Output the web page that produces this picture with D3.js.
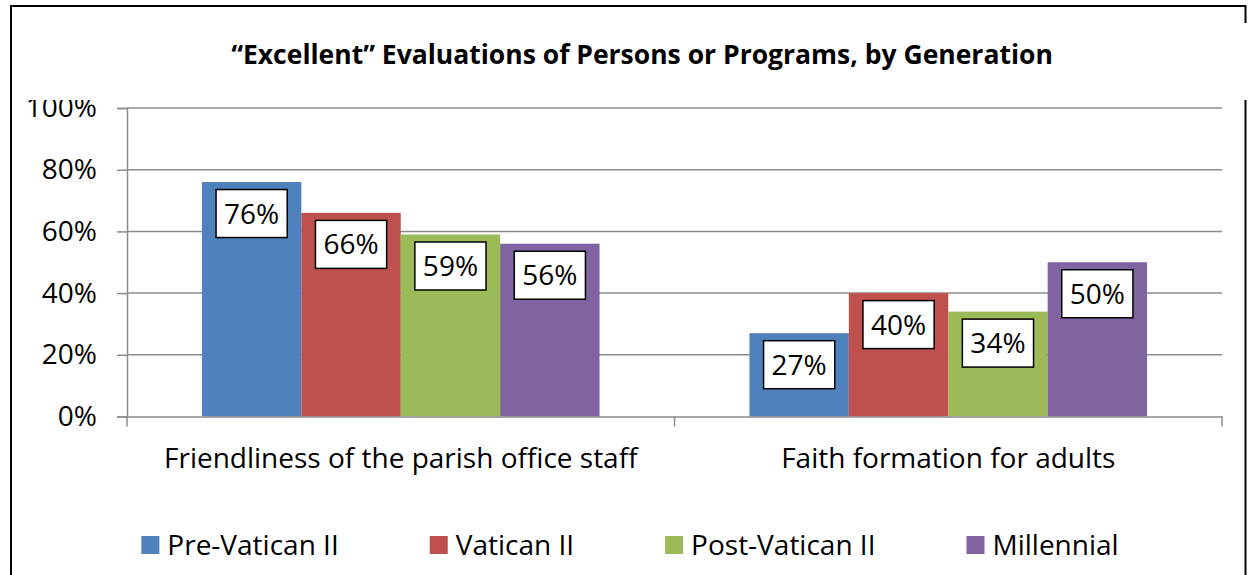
<!DOCTYPE html>
<html>
<head>
<meta charset="utf-8">
<script src="https://cdn.jsdelivr.net/npm/d3@7"></script>
<style>
  html, body { margin: 0; padding: 0; background: #fff; }
  svg { display: block; font-family: "Open Sans", Lato, sans-serif; }
</style>
</head>
<body>
<div id="chart"></div>
<script>
// chart values
const categories = ["Friendliness of the parish office staff", "Faith formation for adults"];
const generations = ["Pre-Vatican II", "Vatican II", "Post-Vatican II", "Millennial"];
const preVatican = [76, 27];
const vatican = [66, 40];
const postVatican = [59, 34];
const millennial = [56, 50];
const yTicks = [0, 20, 40, 60, 80, 100];
const colours = ["#4F81BD", "#C0504D", "#9BBB59", "#8064A2"];

const W = 1248, H = 575;
const plot = { left: 127, right: 1222, top: 108, bottom: 416.5 };
const fontSize = 28;

const seriesValues = [preVatican, vatican, postVatican, millennial];
const rows = categories.map((c, i) => ({
  category: c,
  values: generations.map((g, j) => ({ gen: g, value: seriesValues[j][i] }))
}));

const svg = d3.select("#chart").append("svg")
  .attr("width", W)
  .attr("height", H);

// outer frame
const frame = svg.append("g").attr("stroke", "#000").attr("stroke-width", 2).attr("fill", "none");
frame.append("path").attr("d", `M11,${H} V6 H1245.5 V23`);
frame.append("path").attr("d", `M1245.5,100 V${H}`);

svg.append("text")
  .attr("x", 642)
  .attr("y", 64)
  .attr("text-anchor", "middle")
  .attr("font-weight", "bold")
  .attr("font-size", 26.5)
  .text("\u201CExcellent\u201D Evaluations of Persons or Programs, by Generation");

const x0 = d3.scaleBand().domain(categories).range([plot.left, plot.right]).padding(0);
const x1 = d3.scaleBand().domain(generations).range([0, x0.bandwidth()])
  .paddingInner(0).paddingOuter(0.754);
const y = d3.scaleLinear().domain([0, 100]).range([plot.bottom, plot.top]);

svg.append("defs").append("clipPath").attr("id", "clipTop")
  .append("rect").attr("x", 0).attr("y", 100).attr("width", W).attr("height", H);

// gridlines
svg.append("g")
  .selectAll("line")
  .data(yTicks.filter((d) => d > 0))
  .join("line")
  .attr("x1", plot.left)
  .attr("x2", plot.right)
  .attr("y1", (d) => y(d))
  .attr("y2", (d) => y(d))
  .attr("stroke", "#8c8c8c")
  .attr("stroke-width", 1.5);

// bars
const groups = svg.append("g")
  .selectAll("g")
  .data(rows)
  .join("g")
  .attr("transform", (d) => `translate(${x0(d.category)},0)`);

groups.selectAll("rect")
  .data((d) => d.values)
  .join("rect")
  .attr("x", (d) => x1(d.gen))
  .attr("width", x1.bandwidth())
  .attr("y", (d) => y(d.value))
  .attr("height", (d) => y(0) - y(d.value))
  .attr("fill", (d, i) => colours[i]);

// axes
const yAxis = svg.append("g")
  .attr("clip-path", "url(#clipTop)")
  .append("g")
  .attr("transform", `translate(${plot.left},0)`)
  .call(d3.axisLeft(y).tickValues(yTicks).tickSize(10).tickPadding(20).tickFormat((d) => d + "%"));
yAxis.attr("font-family", null);
yAxis.select(".domain").attr("stroke", "#8c8c8c").attr("stroke-width", 1.5);
yAxis.selectAll(".tick line").attr("stroke", "#8c8c8c").attr("stroke-width", 1.5);
yAxis.selectAll(".tick text")
  .attr("font-size", fontSize)
  .attr("fill", "#000");

const xAxis = svg.append("g")
  .attr("transform", `translate(0,${plot.bottom})`)
  .call(d3.axisBottom(x0).tickSize(0).tickPadding(0).tickSizeOuter(0));
xAxis.attr("font-family", null);
xAxis.select(".domain").attr("stroke", "#8c8c8c").attr("stroke-width", 1.5);
xAxis.selectAll(".tick text")
  .attr("font-size", fontSize)
  .attr("fill", "#000")
  .attr("dy", 0)
  .attr("y", 51);

// category separators below the axis
xAxis.append("g")
  .selectAll("line")
  .data([plot.left, x0(categories[1]), plot.right])
  .join("line")
  .attr("x1", (d) => d)
  .attr("x2", (d) => d)
  .attr("y1", 0)
  .attr("y2", 10)
  .attr("stroke", "#8c8c8c")
  .attr("stroke-width", 1.5);

// value labels
const labels = groups.selectAll("g.lbl")
  .data((d) => d.values)
  .join("g")
  .attr("class", "lbl")
  .attr("transform", (d) => `translate(${x1(d.gen) + x1.bandwidth() / 2},${y(d.value) + 7.5})`);

labels.append("rect")
  .attr("fill", "#fff")
  .attr("stroke", "#000")
  .attr("stroke-width", 1.5);
labels.append("text")
  .attr("text-anchor", "middle")
  .attr("font-size", fontSize)
  .attr("y", 34)
  .text((d) => d.value + "%");
labels.each(function () {
  const g = d3.select(this);
  const w = g.select("text").node().getComputedTextLength() + 16;
  g.select("rect").attr("x", -w / 2).attr("y", 0).attr("width", w).attr("height", 48);
});

// legend
const legend = svg.append("g").attr("transform", "translate(0,545)");
const items = legend.selectAll("g")
  .data(generations)
  .join("g");
items.append("rect")
  .attr("y", -9)
  .attr("width", 18)
  .attr("height", 18)
  .attr("fill", (d, i) => colours[i]);
items.append("text")
  .attr("x", 26)
  .attr("dy", "0.35em")
  .attr("font-size", fontSize)
  .text((d) => d);
let offset = 0;
const widths = [];
items.each(function () {
  widths.push(26 + d3.select(this).select("text").node().getComputedTextLength());
});
const gap = 91;
const total = d3.sum(widths) + gap * (widths.length - 1);
offset = 630 - total / 2;
items.attr("transform", (d, i) => {
  const t = `translate(${offset},0)`;
  offset += widths[i] + gap;
  return t;
});
</script>
</body>
</html>
